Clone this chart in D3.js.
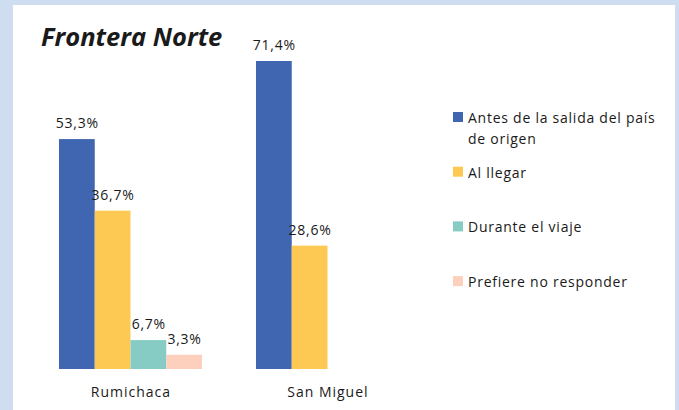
<!DOCTYPE html>
<html>
<head>
<meta charset="utf-8">
<script src="https://cdn.jsdelivr.net/npm/d3@7"></script>
<style>
  body { margin: 0; background: #cfddf0; }
  svg { display: block; }
</style>
</head>
<body>
<script>
const WIDTH = 679;
const HEIGHT = 410;
const FONT = "'Open Sans', 'Liberation Sans', sans-serif";
const SPACING = "0.75px";

// data
const categories = ["Rumichaca", "San Miguel"];
const seriesNames = ["Antes de la salida del país de origen", "Al llegar", "Durante el viaje", "Prefiere no responder"];
const antes = [53.3, 71.4];
const alLlegar = [36.7, 28.6];
const durante = [6.7, null];
const prefiere = [3.3, null];
const colors = ["#4166b1", "#fec952", "#86cbc4", "#fdcfbd"];

const series = [antes, alLlegar, durante, prefiere];
const rows = categories.flatMap((cat, i) =>
  series.map((s, j) => ({ cat, key: seriesNames[j], idx: j, value: s[i] }))
    .filter(d => d.value != null));

const BASE = 369;
const x0 = d3.scaleBand(categories, [32, 426]).paddingInner(0.274).paddingOuter(0.137);
const x1 = d3.scaleBand(d3.range(4), [0, x0.bandwidth()]);
const y = d3.scaleLinear([0, 71.4], [BASE, 61]);

const svg = d3.select("body").append("svg")
    .attr("width", WIDTH)
    .attr("height", HEIGHT);

// white panel
svg.append("rect")
    .attr("x", 13).attr("y", 5)
    .attr("width", 662).attr("height", HEIGHT - 5)
    .attr("fill", "#fff");

svg.append("text")
    .attr("x", 41).attr("y", 46)
    .style("font", `italic bold 25.5px ${FONT}`)
    .attr("fill", "#1a1a1a")
    .text("Frontera Norte");

const g = svg.append("g");

g.selectAll("rect.bar")
  .data(rows)
  .join("rect")
    .attr("class", "bar")
    .attr("x", d => x0(d.cat) + x1(d.idx))
    .attr("y", d => y(d.value))
    .attr("width", x1.bandwidth())
    .attr("height", d => BASE - y(d.value))
    .attr("fill", d => colors[d.idx]);

const fmt = v => d3.format(".1f")(v).replace(".", ",") + "%";

g.selectAll("text.val")
  .data(rows)
  .join("text")
    .attr("class", "val")
    .attr("x", d => x0(d.cat) + x1(d.idx) + x1.bandwidth() / 2 + 0.4)
    .attr("y", d => y(d.value) - 11)
    .attr("text-anchor", "middle")
    .style("font", `14px ${FONT}`)
    .style("letter-spacing", SPACING)
    .attr("fill", "#1a1a1a")
    .text(d => fmt(d.value));

g.selectAll("text.cat")
  .data(categories)
  .join("text")
    .attr("class", "cat")
    .attr("x", d => x0(d) + x0.bandwidth() / 2 + 0.4)
    .attr("y", 397)
    .attr("text-anchor", "middle")
    .style("font", `14px ${FONT}`)
    .style("letter-spacing", "1px")
    .attr("fill", "#1a1a1a")
    .text(d => d);

// legend
const legendLines = [["Antes de la salida del país", "de origen"], ["Al llegar"], ["Durante el viaje"], ["Prefiere no responder"]];
const legend = svg.append("g").attr("transform", "translate(453,112)");
const item = legend.selectAll("g")
  .data(seriesNames)
  .join("g")
    .attr("transform", (d, i) => `translate(0,${i * 54.7})`);

item.append("rect")
    .attr("width", 10).attr("height", 10)
    .attr("fill", (d, i) => colors[i]);

item.append("text")
    .style("font", `14px ${FONT}`)
    .style("letter-spacing", SPACING)
    .attr("fill", "#1a1a1a")
    .selectAll("tspan")
    .data((d, i) => legendLines[i])
    .join("tspan")
      .attr("x", 15)
      .attr("y", (d, k) => 11 + k * 21)
      .text(d => d);
</script>
</body>
</html>
